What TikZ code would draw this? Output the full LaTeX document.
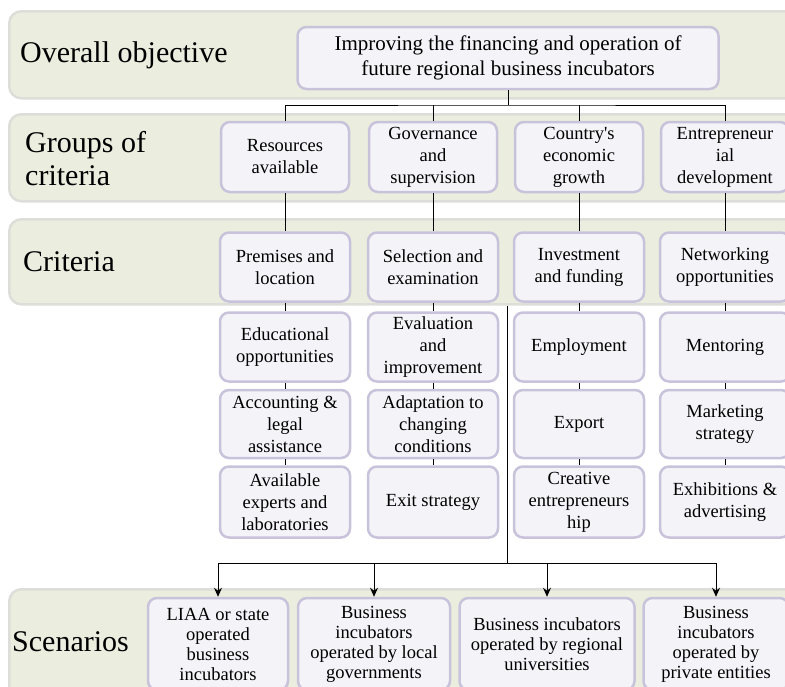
\documentclass[tikz,border=0pt]{standalone}
\usepackage{fontspec}
\setmainfont{Liberation Serif}
\usetikzlibrary{arrows.meta}
\definecolor{bandfill}{HTML}{EBEEDE}
\definecolor{bandline}{HTML}{DDDED9}
\definecolor{boxfill}{HTML}{F4F3F8}
\definecolor{boxline}{HTML}{C8C3DA}
\begin{document}
\begin{tikzpicture}[x=1pt,y=-1pt,
 band/.style={draw=bandline, line width=2.5pt, fill=bandfill, rounded corners=12pt, anchor=north west, inner sep=0pt},
 box/.style={draw=boxline, line width=2.5pt, fill=boxfill, rounded corners=9pt, align=center, inner sep=1pt, font=\fontsize{18.5}{22}\selectfont},
 gbox/.style={box, minimum width=128pt, minimum height=70pt},
 cbox/.style={box, minimum width=130pt, minimum height=69pt},
 sbox/.style={box, minimum height=92pt, font=\fontsize{18.5}{20}\selectfont},
 lab/.style={anchor=west, align=left, font=\fontsize{30}{33}\selectfont, inner sep=0pt},
 conn/.style={line width=1pt, black}]
\useasboundingbox (0,0) rectangle (785,686);
% bands
\node[band, minimum width=800pt, minimum height=87pt] (b1) at (8,10) {};
\node[band, minimum width=800pt, minimum height=87pt] (b2) at (8,113) {};
\node[band, minimum width=800pt, minimum height=85pt] (b3) at (8,218) {};
\node[band, minimum width=800pt, minimum height=112pt] (b4) at (8,588) {};
% labels
\node[lab] (l1) at (20,55) {Overall objective};
\node[lab] (l2) at (25,159) {Groups of\\criteria};
\node[lab] (l3) at (23,262) {Criteria};
\node[lab] (l4) at (12,642) {Scenarios};
% top
\node[box, minimum width=421pt, minimum height=62pt, font=\fontsize{21}{25}\selectfont] (top) at (508,58)
  {Improving the financing and operation of\\future regional business incubators};
% groups
\node[gbox] (g1) at (285,157) {Resources\\available};
\node[gbox] (g2) at (433,157) {Governance\\and\\supervision};
\node[gbox] (g3) at (579,157) {Country\textquotesingle s\\economic\\growth};
\node[gbox] (g4) at (725,157) {Entrepreneur\\ial\\development};
% criteria row 1
\node[cbox] (c11) at (285,267) {Premises and\\location};
\node[cbox] (c12) at (433,267) {Selection and\\examination};
\node[cbox] (c13) at (579,267) {Investment\\and funding};
\node[cbox] (c14) at (725,267) {Networking\\opportunities};
% row 2
\node[cbox] (c21) at (285,347) {Educational\\opportunities};
\node[cbox] (c22) at (433,347) {Evaluation\\and\\improvement};
\node[cbox] (c23) at (579,347) {Employment};
\node[cbox] (c24) at (725,347) {Mentoring};
% row 3
\node[cbox, minimum height=68pt] (c31) at (285,424) {Accounting \&\\legal\\assistance};
\node[cbox, minimum height=68pt] (c32) at (433,424) {Adaptation to\\changing\\conditions};
\node[cbox, minimum height=68pt] (c33) at (579,424) {Export};
\node[cbox, minimum height=68pt] (c34) at (725,424) {Marketing\\strategy};
% row 4
\node[cbox, minimum height=71pt] (c41) at (285,502) {Available\\experts and\\laboratories};
\node[cbox, minimum height=71pt] (c42) at (433,502) {Exit strategy};
\node[cbox, minimum height=71pt] (c43) at (579,502) {Creative\\entrepreneurs\\hip};
\node[cbox, minimum height=71pt] (c44) at (725,502) {Exhibitions \&\\advertising};
% scenarios
\node[sbox, minimum width=140pt] (s1) at (218,644) {LIAA or state\\operated\\business\\incubators};
\node[sbox, minimum width=152pt] (s2) at (374,644) {Business\\incubators\\operated by local\\governments};
\node[sbox, minimum width=175pt] (s3) at (547,644) {Business incubators\\operated by regional\\universities};
\node[sbox, minimum width=145pt] (s4) at (716,644) {Business\\incubators\\operated by\\private entities};
% connectors
\coordinate (hub) at (508,105);
\draw[conn] (top.south) -- (hub);
\draw[conn] (g1.north) |- (hub) -| (g4.north);
\draw[conn] (g2.north) -- (g2.north |- hub);
\draw[conn] (g3.north) -- (g3.north |- hub);
\foreach \i in {1,2,3,4}{
  \draw[conn] (g\i.south) -- (c1\i.north);
  \draw[conn] (c1\i.south) -- (c2\i.north);
  \draw[conn] (c2\i.south) -- (c3\i.north);
  \draw[conn] (c3\i.south) -- (c4\i.north);
}
\coordinate (split) at (507,563);
\draw[conn] (b3.south -| split) -- (split);
\draw[conn, -{Stealth[length=9pt,width=8pt]}] (split) -| (s1.north);
\draw[conn, -{Stealth[length=9pt,width=8pt]}] (split) -| (s2.north);
\draw[conn, -{Stealth[length=9pt,width=8pt]}] (split) -| (s3.north);
\draw[conn, -{Stealth[length=9pt,width=8pt]}] (split) -| (s4.north);
\end{tikzpicture}
\end{document}
